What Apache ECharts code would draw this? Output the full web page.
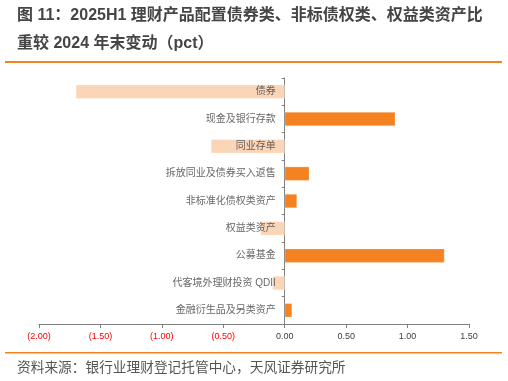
<!DOCTYPE html>
<html><head><meta charset="utf-8">
<script src="https://cdn.jsdelivr.net/npm/echarts@6/dist/echarts.min.js"></script>
<style>html,body{margin:0;padding:0;background:#fff}#c{width:508px;height:381px}</style>
</head><body><div id="c"></div>
<script>
const categories = ['债券','现金及银行存款','同业存单','拆放同业及债券买入返售','非标准化债权类资产','权益类资产','公募基金','代客境外理财投资 QDII','金融衍生品及另类资产'];
const values = [-1.70, 0.90, -0.60, 0.20, 0.10, -0.20, 1.30, -0.10, 0.06];
const titleLine1 = '图 11：2025H1 理财产品配置债券类、非标债权类、权益类资产比';
const titleLine2 = '重较 2024 年末变动（pct）';
const sourceText = '资料来源：银行业理财登记托管中心，天风证券研究所';

const chart = echarts.init(document.getElementById('c'));
const font = '"Liberation Sans","Noto Sans CJK SC",sans-serif';
chart.setOption({
  animation:false,
  grid:{left:39,right:39,top:78,bottom:57,containLabel:false,outerBoundsMode:'none'},
  xAxis:{type:'value',min:-2,max:1.5,interval:0.5,
    axisLine:{show:true,lineStyle:{color:'#7f7f7f'}},
    axisTick:{show:true,length:4,lineStyle:{color:'#7f7f7f'}},
    splitLine:{show:false},
    axisLabel:{fontSize:9,margin:8,fontFamily:'Liberation Sans',
      formatter:v=>v<0?'('+Math.abs(v).toFixed(2)+')':v.toFixed(2),
      color:v=>v<0?'#ff0000':'#404040'}},
  yAxis:{type:'category',data:categories,inverse:true,
    axisLine:{show:true,onZero:true,lineStyle:{color:'#7f7f7f'}},
    axisTick:{show:true,length:3,lineStyle:{color:'#7f7f7f'}},
    axisLabel:{show:false}},
  series:[
    {type:'bar',barWidth:14,z:2,
      data:values.map(v=>({value:v,itemStyle:{color:v<0?'#fbd5b8':'#f58220'}})),
      itemStyle:{borderColor:'rgba(255,255,255,0.5)',borderWidth:0.5}},
    {type:'scatter',symbolSize:0,z:5,silent:true,
      data:categories.map((c,i)=>[0,i]),
      label:{show:true,position:'left',distance:9,fontSize:10,color:'#404040',fontFamily:font,
        formatter:p=>categories[p.dataIndex]}}
  ],
  graphic:[
    {type:'text',left:17,top:8,style:{text:titleLine1,fontSize:16,fontWeight:'bold',fill:'#454545',fontFamily:font}},
    {type:'text',left:17,top:36,style:{text:titleLine2,fontSize:16,fontWeight:'bold',fill:'#454545',fontFamily:font}},
    {type:'rect',shape:{x:5,y:61,width:497,height:2},style:{fill:'#f58220'}},
    {type:'rect',shape:{x:5,y:352,width:497,height:1.5},style:{fill:'#f58220'}},
    {type:'text',left:17,top:361,style:{text:sourceText,fontSize:13.7,fill:'#555555',fontFamily:font}}
  ]
});
</script></body></html>
